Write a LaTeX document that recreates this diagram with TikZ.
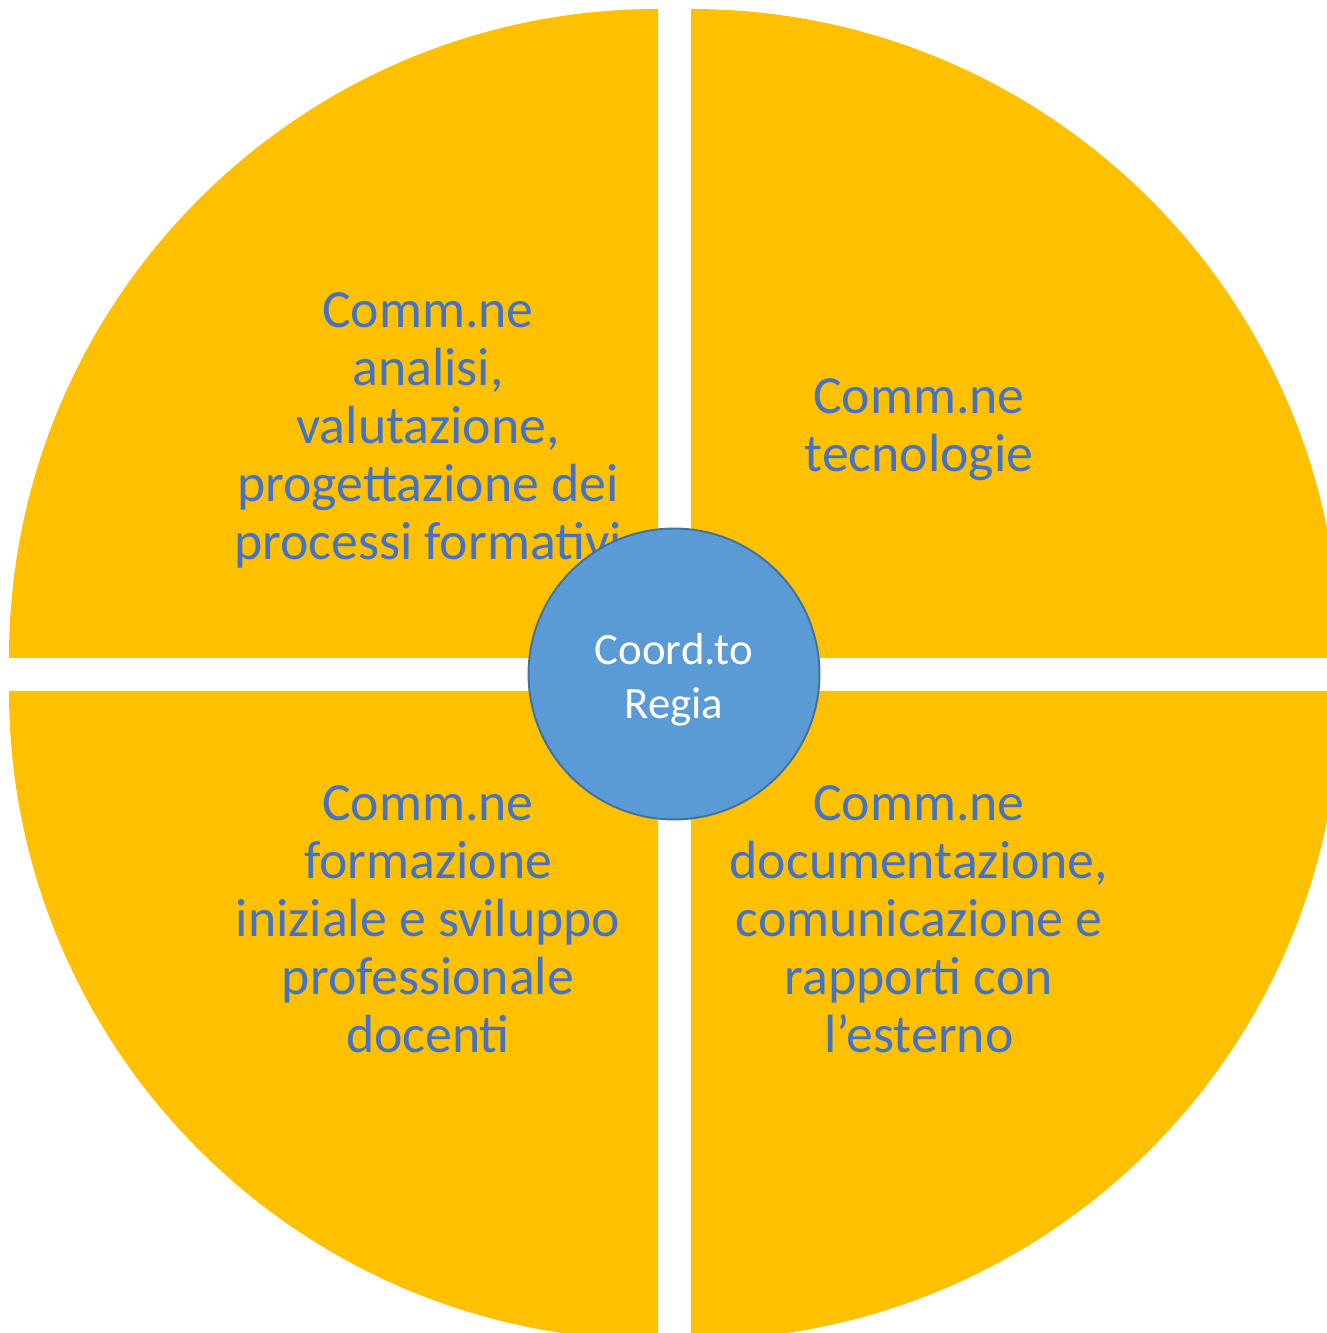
\documentclass[tikz,border=0pt]{standalone}
\usepackage{fontspec}
\setmainfont{Carlito}
\usetikzlibrary{positioning}
\definecolor{quadyellow}{HTML}{FFC000}
\definecolor{labelblue}{HTML}{4472C4}
\definecolor{coordfill}{HTML}{5B9BD5}
\definecolor{coordline}{HTML}{41719C}

\begin{document}
\begin{tikzpicture}[x=0.02cm,y=0.02cm,on grid,
	quarter/.style={fill=quadyellow},
	comm/.style={text=labelblue, align=center, inner sep=0pt, anchor=center,
		font=\fontsize{30.6}{33}\selectfont},
	regia/.style={circle, fill=coordfill, draw=coordline, line width=1.1pt,
		minimum size=5.82cm, inner sep=0pt, text=white, align=center,
		font=\fontsize{25.5}{30.4}\selectfont}]

		\useasboundingbox (0,0) rectangle (1327,1333);
		\clip (0,0) rectangle (1327,1333);

		% Quarters
		\fill[quarter] (658,675) -- ++(-649,0) arc[start angle=180, end angle=90, radius=649] -- cycle;
		\fill[quarter] (691,675) -- ++(0,649) arc[start angle=90, end angle=0, radius=649] -- cycle;
		\fill[quarter] (658,642) -- ++(0,-649) arc[start angle=270, end angle=180, radius=649] -- cycle;
		\fill[quarter] (691,642) -- ++(649,0) arc[start angle=0, end angle=-90, radius=649] -- cycle;

		\coordinate (centre) at (674,659);

		% Commissioni
		\node[above left = 4.88cm and 4.92cm of centre, comm] (analisi)
			{Comm.ne\\analisi,\\valutazione,\\progettazione dei\\processi formativi};
		\node[above right = 4.88cm and 4.9cm of centre, comm] (tecnologie)
			{Comm.ne\\tecnologie};
		\node[below left = 4.9cm and 4.92cm of centre, comm] (formazione)
			{Comm.ne\\formazione\\iniziale e sviluppo\\professionale\\docenti};
		\node[below right = 4.9cm and 4.9cm of centre, comm] (documentazione)
			{Comm.ne\\documentazione,\\comunicazione e\\rapporti con\\l’esterno};

		% Coordinamento
		\node[regia] (coord) at (centre)
			{\raisebox{-4pt}[\height][\depth]{\begin{tabular}{@{}c@{}}Coord.to\\Regia\end{tabular}}};
	\end{tikzpicture}
\end{document}
